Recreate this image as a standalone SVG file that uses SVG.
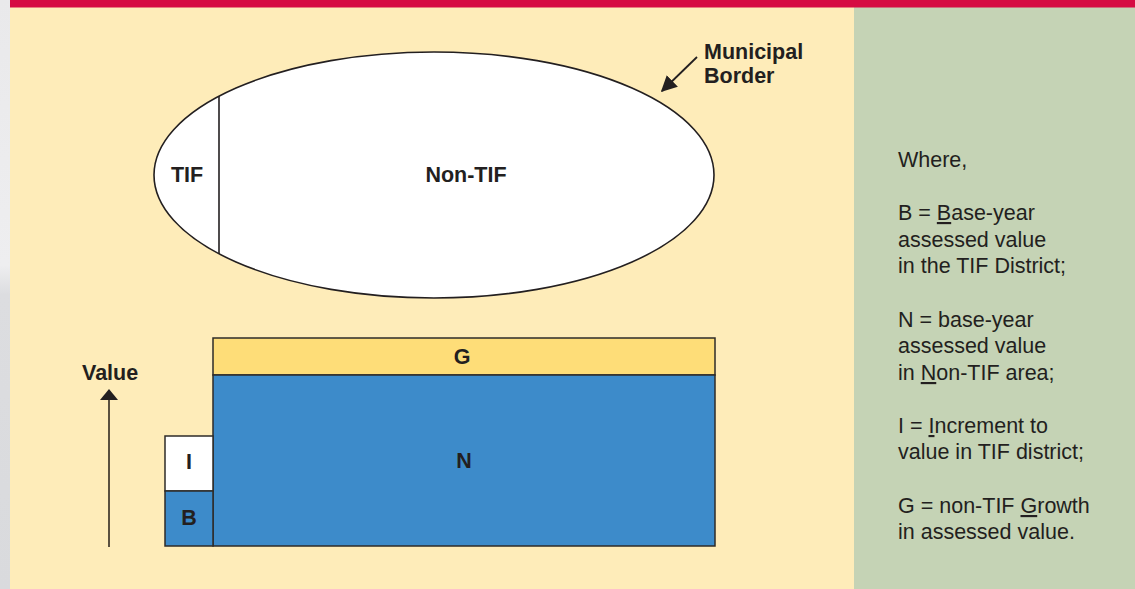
<svg xmlns="http://www.w3.org/2000/svg" width="1135" height="589" viewBox="0 0 1135 589">
  <defs>
    <linearGradient id="edge" x1="0" y1="0" x2="0" y2="1">
      <stop offset="0" stop-color="#e9e9eb"/>
      <stop offset="0.45" stop-color="#eeeef0"/>
      <stop offset="0.5" stop-color="#dcdde0"/>
      <stop offset="1" stop-color="#d9dadd"/>
    </linearGradient>
    <marker id="head" viewBox="0 0 10 10" refX="9" refY="5" markerWidth="16" markerHeight="16" markerUnits="userSpaceOnUse" orient="auto">
      <path d="M0,0 L10,5 L0,10 z" fill="#231f20"/>
    </marker>
    <style>
      .lbl { font-family: "Liberation Sans", Arial, sans-serif; font-weight: bold; font-size: 21.5px; fill: #231f20; }
      .mid { text-anchor: middle; }
      .legend { font-family: "Liberation Sans", Arial, sans-serif; font-size: 21.5px; fill: #231f20; }
      .bar { stroke: #2e2b28; stroke-width: 1.5; }
      .u { text-decoration: underline; }
    </style>
  </defs>

  <!-- backgrounds -->
  <rect x="0" y="0" width="10" height="589" fill="url(#edge)"/>
  <rect x="10" y="0" width="844" height="589" fill="#feecb9"/>
  <rect x="854" y="0" width="281" height="589" fill="#c5d3b5"/>
  <rect x="10" y="0" width="1125" height="7.5" fill="#d60b42"/>

  <!-- municipality ellipse -->
  <g id="municipality">
    <ellipse cx="434" cy="175" rx="280" ry="123" fill="#ffffff" stroke="#231f20" stroke-width="1.6"/>
    <line x1="219" y1="96" x2="219" y2="254" stroke="#231f20" stroke-width="1.6"/>
  </g>
  <g id="tif-area">
    <text class="lbl mid" x="187" y="182">TIF</text>
  </g>
  <g id="non-tif-area">
    <text class="lbl mid" x="466" y="182">Non-TIF</text>
  </g>
  <g id="municipal-border-label">
    <text class="lbl" x="704" y="59">Municipal</text>
    <text class="lbl" x="704" y="83">Border</text>
  </g>

  <!-- bars -->
  <g id="bar-G">
    <rect class="bar" x="213" y="338" width="502" height="37" fill="#fedd78"/>
    <text class="lbl mid" x="462" y="364">G</text>
  </g>
  <g id="bar-N">
    <rect class="bar" x="213" y="375" width="502" height="171" fill="#3d8bca"/>
    <text class="lbl mid" x="464" y="468">N</text>
  </g>
  <g id="bar-I">
    <rect class="bar" x="165" y="436" width="48" height="55" fill="#ffffff"/>
    <text class="lbl mid" x="189" y="469">I</text>
  </g>
  <g id="bar-B">
    <rect class="bar" x="165" y="491" width="48" height="55" fill="#3d8bca"/>
    <text class="lbl mid" x="189" y="525">B</text>
  </g>

  <g id="value-axis">
    <text class="lbl" x="82" y="380">Value</text>
  </g>

  <!-- connectors -->
  <g id="connectors">
    <line x1="109" y1="547" x2="109" y2="398" stroke="#5a5040" stroke-width="2"/>
    <polygon points="100,400 118,400 109,389" fill="#231f20"/>
    <line x1="697" y1="57" x2="662" y2="91" stroke="#231f20" stroke-width="1.8" marker-end="url(#head)"/>
  </g>

  <!-- legend -->
  <g id="legend">
    <text class="legend" x="898" y="167">Where,</text>
    <text class="legend" x="898" y="220">B = <tspan class="u">B</tspan>ase-year</text>
    <text class="legend" x="898" y="247">assessed value</text>
    <text class="legend" x="898" y="273">in the TIF District;</text>
    <text class="legend" x="898" y="327">N = base-year</text>
    <text class="legend" x="898" y="353">assessed value</text>
    <text class="legend" x="898" y="380">in <tspan class="u">N</tspan>on-TIF area;</text>
    <text class="legend" x="898" y="433">I = <tspan class="u">I</tspan>ncrement to</text>
    <text class="legend" x="898" y="459">value in TIF district;</text>
    <text class="legend" x="898" y="513">G = non-TIF <tspan class="u">G</tspan>rowth</text>
    <text class="legend" x="898" y="539">in assessed value.</text>
  </g>
</svg>
